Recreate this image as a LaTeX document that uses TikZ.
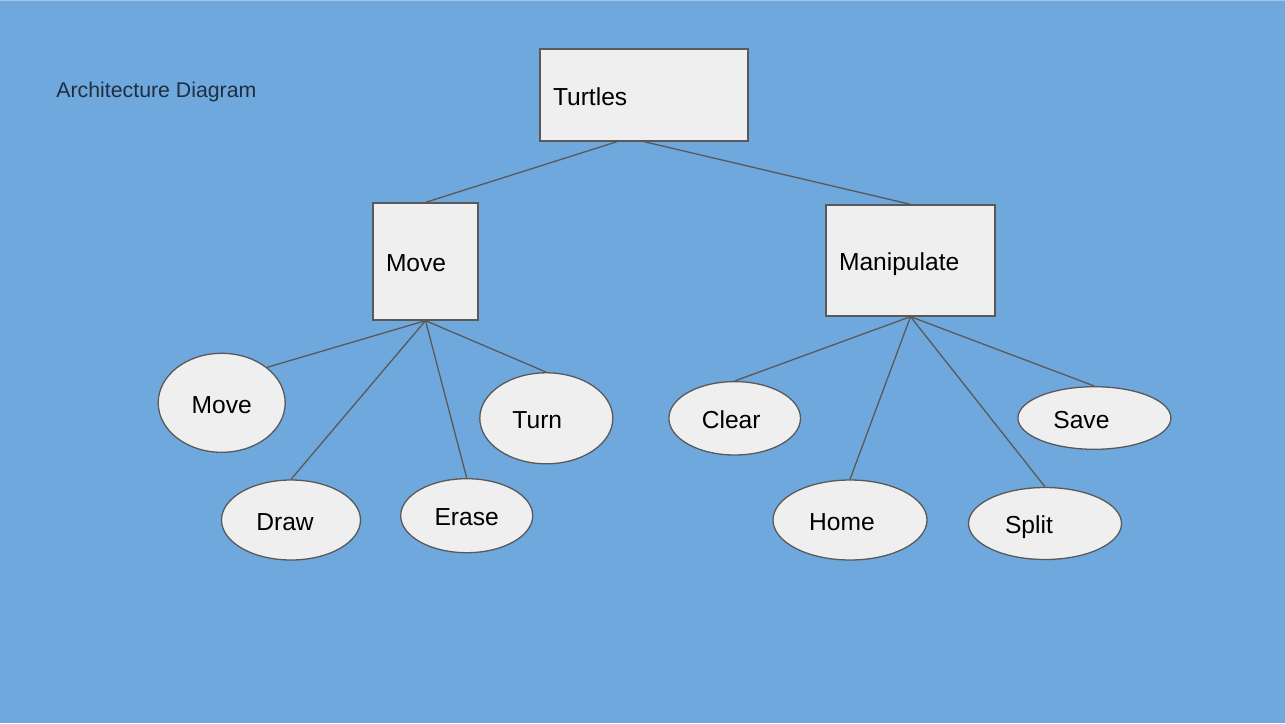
\documentclass[tikz,border=0pt]{standalone}
\usepackage{fontspec}
\setmainfont{Liberation Sans}
\usetikzlibrary{shapes.geometric}

\definecolor{slideblue}{HTML}{6FA8DC}
\definecolor{slideedge}{HTML}{9FC5E8}
\definecolor{boxfill}{HTML}{EFEFEF}
\definecolor{boxline}{HTML}{595959}
\definecolor{titleink}{HTML}{1F2F3F}

\tikzset{
  block/.style={rectangle, draw=boxline, fill=boxfill, line width=0.65pt, align=left,
    inner xsep=6.5pt, inner ysep=0pt, text height=10.1pt, text depth=0pt, font=\fontsize{12.3pt}{14pt}\selectfont},
  leaf/.style={ellipse, draw=boxline, fill=boxfill, line width=0.65pt, inner sep=0pt},
  leaftext/.style={inner sep=0pt, text height=10.2pt, text depth=0pt, font=\fontsize{12.3pt}{14pt}\selectfont},
  link/.style={draw=boxline, line width=0.65pt}
}

\begin{document}
\begin{tikzpicture}[x=0.5pt, y=-0.5pt]
        % basics
        \useasboundingbox (0,0) rectangle (1285,723);
        \fill[slideblue] (0,0) rectangle (1285,723);
        \draw[slideedge, line width=0.5pt] (0,0.5) -- (1285,0.5);
        \node[anchor=base west, inner sep=0pt, text=titleink, font=\fontsize{10.65pt}{12pt}\selectfont] (title) at (56,97.3) {Architecture Diagram};

        % boxes
        \node[block, text width=91pt, minimum width=104pt, minimum height=46pt] (turtles) at (644,95) {Turtles};
        \node[block, text width=39.5pt, minimum width=52.5pt, minimum height=58.5pt] (move) at (425.5,261.5) {Move};
        \node[block, text width=71.5pt, minimum width=84.5pt, minimum height=55.5pt] (manip) at (910.5,260.5) {Manipulate};

        % leaves
        %% move side
        \node[leaf, minimum width=63.5pt, minimum height=49.5pt, label={[leaftext]center:Move}] (moveleaf) at (221.7,402.8) {};
        \node[leaf, minimum width=69.5pt, minimum height=40pt, label={[leaftext, xshift=-3pt]center:Draw}] (drawleaf) at (291,520) {};
        \node[leaf, minimum width=66pt, minimum height=37pt, label={[leaftext]center:Erase}] (eraseleaf) at (466.7,515.7) {};
        \node[leaf, minimum width=66.5pt, minimum height=45.5pt, label={[leaftext, xshift=-4.5pt]center:Turn}] (turnleaf) at (546.3,418.3) {};
        %% manipulate side
        \node[leaf, minimum width=65.8pt, minimum height=36.7pt, label={[leaftext, xshift=-1.75pt]center:Clear}] (clearleaf) at (734.7,418.3) {};
        \node[leaf, minimum width=77pt, minimum height=40pt, label={[leaftext, xshift=-4pt]center:Home}] (homeleaf) at (850,520) {};
        \node[leaf, minimum width=76.5pt, minimum height=36pt, label={[leaftext, xshift=-8pt]center:Split}] (splitleaf) at (1045,523.5) {};
        \node[leaf, minimum width=76.5pt, minimum height=31.3pt, label={[leaftext, xshift=-6.5pt]center:Save}] (saveleaf) at (1094.4,418) {};

        % connectors
        \draw[link] (turtles.240) -- (move.north);
        \draw[link] (turtles.south) -- (manip.north);
        \draw[link] (move.south) -- (moveleaf.38);
        \draw[link] (move.south) -- (drawleaf.north);
        \draw[link] (move.south) -- (eraseleaf.north);
        \draw[link] (move.south) -- (turnleaf.north);
        \draw[link] (manip.south) -- (clearleaf.north);
        \draw[link] (manip.south) -- (homeleaf.north);
        \draw[link] (manip.south) -- (splitleaf.north);
        \draw[link] (manip.south) -- (saveleaf.north);
\end{tikzpicture}
\end{document}
